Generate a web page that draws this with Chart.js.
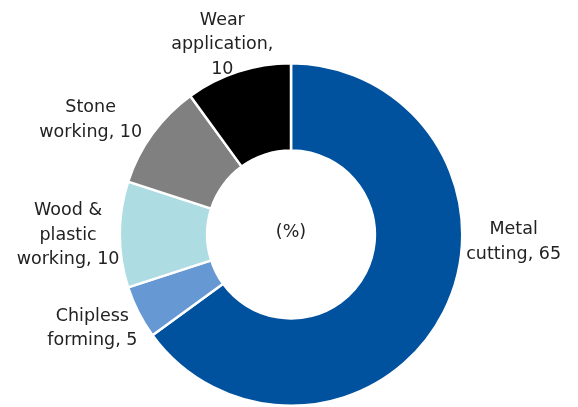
<!DOCTYPE html>
<html>
<head>
<meta charset="utf-8">
<script src="https://cdn.jsdelivr.net/npm/chart.js@4/dist/chart.umd.min.js"></script>
<style>
  html, body { margin: 0; padding: 0; background: #fff; }
  #wrap { width: 578px; height: 407px; position: relative; }
</style>
</head>
<body>
<div id="wrap"><canvas id="chart"></canvas></div>
<script>
// --- Data ---
const categories = ['Metal cutting', 'Chipless forming', 'Wood & plastic working', 'Stone working', 'Wear application'];
const shares = [65, 5, 10, 10, 10];
const colors = ['#00519E', '#6699D3', '#ADDDE3', '#808080', '#000000'];
const centerText = '(%)';

// label lines as shown in the picture (wrapped text)
const labelLines = [
  ['Metal', 'cutting, 65'],
  ['Chipless', 'forming, 5'],
  ['Wood &', 'plastic', 'working, 10'],
  ['Stone', 'working, 10'],
  ['Wear', 'application,', '10']
];

const FONT = '17.5px "DejaVu Sans", sans-serif';
const LINE_H = 24.5;
const BASE_SHIFT = 3; // DejaVu sits a bit high on a 'middle' baseline

// draws the outside labels and the centre note
const labelPlugin = {
  id: 'outerLabels',
  afterDraw(chart, args, opts) {
    const ctx = chart.ctx;
    const meta = chart.getDatasetMeta(0);
    const arc0 = meta.data[0];
    const cx = arc0.x, cy = arc0.y, r = arc0.outerRadius;
    ctx.save();
    ctx.font = FONT;
    ctx.fillStyle = '#222';
    ctx.textAlign = 'center';
    ctx.textBaseline = 'middle';
    opts.spots.forEach((s, i) => {
      const lines = labelLines[i];
      const x = cx + s[0] * r;
      const y = cy + s[1] * r + BASE_SHIFT;
      const top = y - (lines.length - 1) * LINE_H / 2;
      lines.forEach((ln, j) => ctx.fillText(ln, x, top + j * LINE_H));
    });
    ctx.fillText(centerText, cx, cy - 5 + BASE_SHIFT);
    ctx.restore();
  }
};

new Chart(document.getElementById('chart'), {
  type: 'doughnut',
  data: {
    labels: categories,
    datasets: [{
      data: shares,
      backgroundColor: colors,
      borderColor: '#fff',
      borderWidth: 2.5,
      hoverOffset: 0
    }]
  },
  options: {
    responsive: true,
    maintainAspectRatio: false,
    animation: false,
    cutout: '49%',
    layout: { padding: { top: 62, bottom: -3, left: 4, right: 0 } },
    plugins: {
      legend: { display: false },
      tooltip: { enabled: false },
      // label centres, in units of the outer radius from the chart centre
      outerLabels: {
        spots: [[1.30, 0.026], [-1.16, 0.532], [-1.302, -0.012], [-1.17, -0.686], [-0.401, -1.125]]
      }
    }
  },
  plugins: [labelPlugin]
});
</script>
</body>
</html>
